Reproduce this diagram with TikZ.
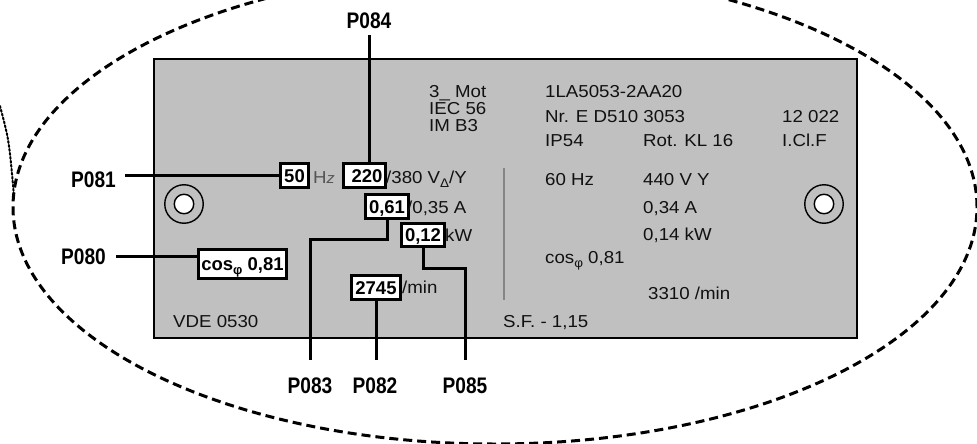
\documentclass[tikz,border=0pt]{standalone}
\usepackage{fontspec}
\setmainfont{Liberation Sans}
\newfontfamily\platefont[FakeStretch=1.08]{Liberation Sans}
\newfontfamily\lblfont[FakeStretch=0.85]{Liberation Sans}
\newfontfamily\valfont{Liberation Sans}
\definecolor{plategrey}{HTML}{C0C0C0}
\definecolor{ink}{HTML}{111111}
\definecolor{hzgrey}{HTML}{555555}
\definecolor{sepgrey}{HTML}{858585}
\tikzset{
  plate/.style={draw=black, line width=1.8pt, fill=plategrey, inner sep=0pt},
  ptxt/.style={anchor=base west, inner sep=0pt, text=ink, font=\platefont\fontsize{17.3}{20}\selectfont},
  valbox/.style={draw=black, line width=3pt, fill=white, inner sep=0pt, text height=13.2pt, text depth=0pt,
                 font=\valfont\bfseries\fontsize{18.5}{20}\selectfont, text=black},
  plbl/.style={inner sep=0pt, font=\lblfont\bfseries\fontsize{22.5}{24}\selectfont},
  lead/.style={line width=3pt},
  zoomloop/.style={line width=3pt, dash pattern=on 9pt off 5pt},
  holeout/.style={circle, draw=black, line width=1.4pt, minimum size=38.5pt, inner sep=0pt},
  holein/.style={circle, draw=black, fill=white, line width=1.4pt, minimum size=19.5pt, inner sep=0pt},
}
\begin{document}
\begin{tikzpicture}[x=1pt, y=-1pt]
\useasboundingbox (0,0) rectangle (977,444);
\clip (0,0) rectangle (977,444);
% zoom outline
\draw[zoomloop] (495,207) ellipse [x radius=482pt, y radius=237pt];
\draw[line width=2pt, dotted, line cap=round] (0,106) .. controls (9,140) .. (14,196);
% plate
\node[plate, anchor=north west, minimum width=703pt, minimum height=279pt] (plate) at (152.8,57.8) {};
\draw[sepgrey, line width=1.1pt] (504,168) -- (504,300);
% mounting holes
\node[holeout] (holeLo) at (184,204) {};
\node[holein] (holeLi) at (184,204) {};
\node[holeout] (holeRo) at (824,204) {};
\node[holein] (holeRi) at (824,204) {};
% plate texts
\node[ptxt] (t3mot) at (429,97) {3\_ Mot};
\node[ptxt] (tiec) at (429,114) {IEC 56};
\node[ptxt] (timb) at (429,131) {IM B3};
\node[ptxt] (ttype) at (545,97) {1LA5053-2AA20};
\node[ptxt] (tnr) at (545,122) {Nr. E D510 3053};
\node[ptxt] (t12) at (782,122) {12 022};
\node[ptxt] (tip) at (545,146) {IP54};
\node[ptxt] (trot) at (643,146) {Rot. KL 16};
\node[ptxt] (tcl) at (782,146) {I.Cl.F};
\node[ptxt] (t60) at (545,185) {60 Hz};
\node[ptxt] (t440) at (643,185) {440 V Y};
\node[ptxt] (t034) at (643,213) {0,34 A};
\node[ptxt] (t014) at (643,240) {0,14 kW};
\node[ptxt] (tcos) at (545,263) {cos\raisebox{-4pt}{\fontsize{12.5}{12}\selectfont φ} 0,81};
\node[ptxt] (t3310) at (648,299) {3310 /min};
\node[ptxt] (tsf) at (503,327) {S.F. - 1,15};
\node[ptxt] (tvde) at (173,327) {VDE 0530};
% boxed values
\node[valbox, minimum width=28pt, minimum height=24pt] (b50) at (294.5,175.5) {50};
\node[valbox, minimum width=42pt, minimum height=24pt] (b220) at (364.5,175.5) {\hspace*{5pt}220};
\node[valbox, minimum width=43pt, minimum height=24pt] (b061) at (387,206.5) {0,61};
\node[valbox, minimum width=43pt, minimum height=23pt] (b012) at (423,235) {0,12};
\node[valbox, minimum width=88pt, minimum height=29pt] (bcos) at (242.5,264) {cos\raisebox{-4pt}{\fontsize{13}{13}\selectfont φ} 0,81};
\node[valbox, minimum width=49pt, minimum height=24pt] (b2745) at (376,287.5) {2745};
% texts following boxes
\node[ptxt, text=hzgrey] (thz) at (313,183) {H{\itshape\fontsize{15}{15}\selectfont z}};
\node[ptxt] (t380) at (386,183) {/380 V\raisebox{-4pt}{\fontsize{12.5}{12}\selectfont Δ}/Y};
\node[ptxt] (t035) at (407,213) {/0,35 A};
\node[ptxt] (tkw) at (445,241) {kW};
\node[ptxt] (tmin) at (402,293) {/min};
% labels
\node[plbl, anchor=base] (p084) at (369,29) {P084};
\node[plbl, anchor=base west] (p081) at (71,187) {P081};
\node[plbl, anchor=base west] (p080) at (61,264) {P080};
\node[plbl, anchor=base] (p083) at (310,393) {P083};
\node[plbl, anchor=base] (p082) at (375,393) {P082};
\node[plbl, anchor=base] (p085) at (465,393) {P085};
% leader lines
\draw[lead, shorten <=6pt] (p084.south) -- (p084.south |- b220.north);
\draw[lead, shorten <=9pt] (p081.east |- b50.west) -- (b50.west);
\draw[lead, shorten <=10pt] (p080.east) -- (p080.east -| bcos.west);
\draw[lead, shorten >=17pt] (b061.south) -- ++(0,19) -| (p083.north);
\draw[lead, shorten >=17pt] (b012.south) -- ++(0,20.5) -| (p085.north);
\draw[lead, shorten >=17pt] (b2745.south) -- (b2745.south |- p082.north);
\end{tikzpicture}
\end{document}
